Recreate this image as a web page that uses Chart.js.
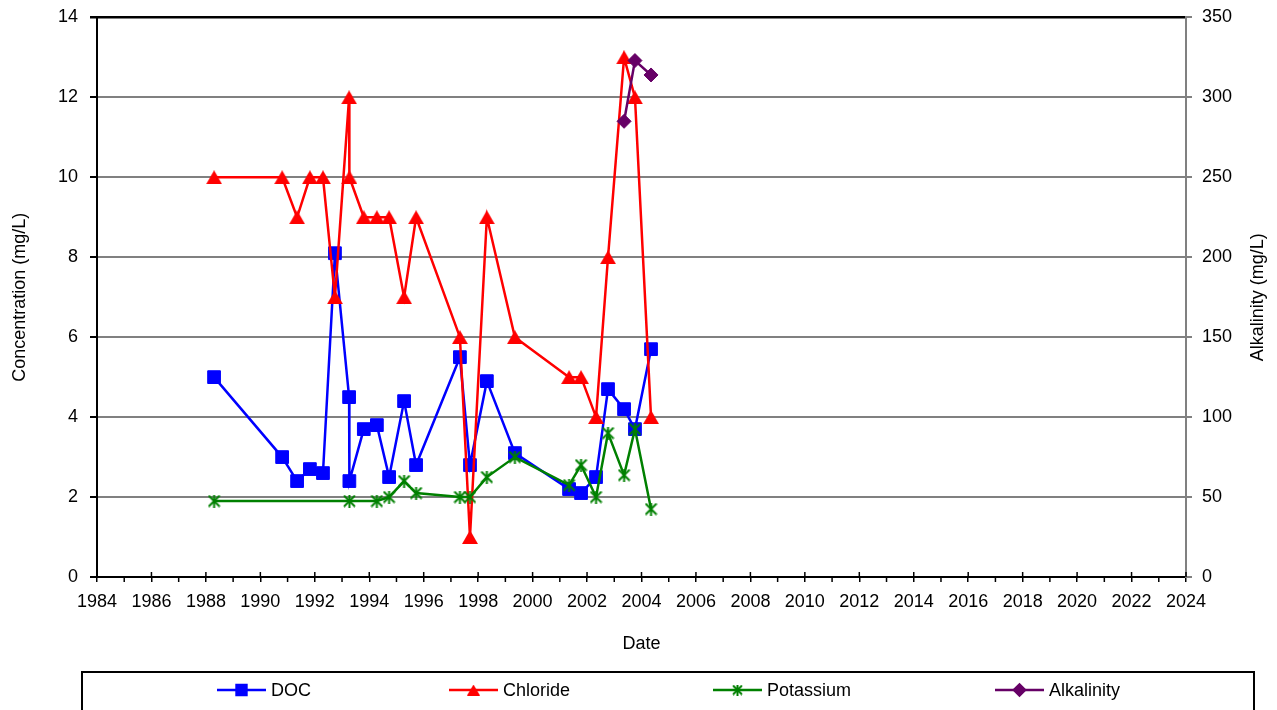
<!DOCTYPE html>
<html>
<head>
<meta charset="utf-8">
<script src="https://cdn.jsdelivr.net/npm/chart.js@4.4.0/dist/chart.umd.min.js"></script>
<style>
  html, body { margin: 0; padding: 0; background: #fff; }
</style>
</head>
<body>
<canvas id="myChart" width="1277" height="710"></canvas>
<script>
// sample dates as decimal years
const docDates = [1988.30, 1990.80, 1991.35, 1991.82, 1992.30, 1992.74, 1993.26, 1993.27, 1993.80, 1994.28, 1994.73, 1995.28,
                  1995.72, 1997.33, 1997.70, 1998.32, 1999.35, 2001.34, 2001.78, 2002.33, 2002.77, 2003.36, 2003.76, 2004.35]
const docValues = [5.0, 3.0, 2.4, 2.7, 2.6, 8.1, 4.5, 2.4, 3.7, 3.8, 2.5, 4.4, 2.8, 5.5, 2.8, 4.9, 3.1, 2.2, 2.1, 2.5, 4.7, 4.2, 3.7, 5.7]
const chlorideValues = [10, 10, 9, 10, 10, 7, 12, 10, 9, 9, 9, 7, 9, 6, 1, 9, 6, 5, 5, 4, 8, 13, 12, 4]

const potassiumDates = [1988.30, 1993.27, 1994.28, 1994.73, 1995.28, 1995.72, 1997.33, 1997.70, 1998.32, 1999.35,
                        2001.34, 2001.78, 2002.33, 2002.77, 2003.36, 2003.76, 2004.35]
const potassiumValues = [1.9, 1.9, 1.9, 2.0, 2.4, 2.1, 2.0, 2.0, 2.5, 3.0, 2.3, 2.8, 2.0, 3.6, 2.55, 3.7, 1.7]

const alkalinityDates = [2003.36, 2003.76, 2004.35]
const alkalinityValues = [285, 323, 314]

const seriesNames = ['DOC', 'Chloride', 'Potassium', 'Alkalinity']
const seriesColors = ['#0000FF', '#FF0000', '#008000', '#660066']

const FONT = '"Liberation Sans", Arial, sans-serif'

function points(dates, values) {
    return dates.map((d, i) => ({x: d, y: values[i]}))
}

// excel style markers drawn on small canvases
function triangleMarker(color, w, h) {
    const c = document.createElement('canvas')
    c.width = w
    c.height = h
    const g = c.getContext('2d')
    g.fillStyle = color
    g.beginPath()
    g.moveTo(w / 2, 0)
    g.lineTo(w, h)
    g.lineTo(0, h)
    g.closePath()
    g.fill()
    return c
}

function asteriskMarker(color, s) {
    const c = document.createElement('canvas')
    c.width = s
    c.height = s
    const g = c.getContext('2d')
    g.strokeStyle = color
    g.lineWidth = 2
    g.beginPath()
    g.moveTo(1, 1); g.lineTo(s - 1, s - 1)
    g.moveTo(s - 1, 1); g.lineTo(1, s - 1)
    g.moveTo(s / 2, 0); g.lineTo(s / 2, s)
    g.stroke()
    return c
}

Chart.defaults.color = '#000'
Chart.defaults.font.family = FONT
Chart.defaults.font.size = 18

const markerStyles = [
    {pointStyle: 'rect', radius: 9},
    {pointStyle: triangleMarker('#FF0000', 16, 14), radius: 8},
    {pointStyle: asteriskMarker('#008000', 13), radius: 7},
    {pointStyle: 'rectRot', radius: 7}
]
const legendMarkers = [
    {pointStyle: 'rect', radius: 7},
    {pointStyle: triangleMarker('#FF0000', 13, 11), radius: 6},
    {pointStyle: asteriskMarker('#008000', 11), radius: 6},
    {pointStyle: 'rectRot', radius: 5.5}
]

// minor x ticks, right axis title and the boxed legend
const extras = {
    id: 'extras',
    afterDraw(chart) {
        const ctx = chart.ctx
        const xs = chart.scales.x
        const area = chart.chartArea
        ctx.save()
        ctx.strokeStyle = '#000'
        ctx.lineWidth = 1.5
        for (let yr = 1984; yr <= 2024; yr++) {
            const px = xs.getPixelForValue(yr)
            ctx.beginPath()
            if (yr % 2 === 0) {
                ctx.moveTo(px, area.bottom - 5)
                ctx.lineTo(px, area.bottom)
            } else {
                ctx.moveTo(px, area.bottom)
                ctx.lineTo(px, area.bottom + 5)
            }
            ctx.stroke()
        }
        ctx.restore()

        ctx.save()
        ctx.translate(1258, (area.top + area.bottom) / 2)
        ctx.rotate(-Math.PI / 2)
        ctx.font = '18px ' + FONT
        ctx.fillStyle = '#000'
        ctx.textAlign = 'center'
        ctx.textBaseline = 'middle'
        ctx.fillText('Alkalinity (mg/L)', 0, 0)
        ctx.restore()

        // legend
        ctx.save()
        ctx.strokeStyle = '#000'
        ctx.lineWidth = 2
        ctx.strokeRect(82, 672, 1172, 60)
        const starts = [217, 449, 713, 995]
        const ly = 690
        ctx.font = '18px ' + FONT
        ctx.textBaseline = 'middle'
        ctx.textAlign = 'left'
        seriesNames.forEach((name, i) => {
            const lx = starts[i]
            ctx.strokeStyle = seriesColors[i]
            ctx.fillStyle = seriesColors[i]
            ctx.lineWidth = 2.5
            ctx.beginPath()
            ctx.moveTo(lx, ly)
            ctx.lineTo(lx + 49, ly)
            ctx.stroke()
            Chart.helpers.drawPoint(ctx, {
                pointStyle: legendMarkers[i].pointStyle,
                radius: legendMarkers[i].radius,
                rotation: 0,
                borderWidth: 1
            }, lx + 24.5, ly)
            ctx.fillStyle = '#000'
            ctx.fillText(name, lx + 54, ly + 1)
        })
        ctx.restore()
    }
}

const datasets = [
    {data: points(docDates, docValues), yAxisID: 'y', order: 4},
    {data: points(docDates, chlorideValues), yAxisID: 'y', order: 3},
    {data: points(potassiumDates, potassiumValues), yAxisID: 'y', order: 2},
    {data: points(alkalinityDates, alkalinityValues), yAxisID: 'y1', order: 1}
].map((ds, i) => Object.assign(ds, {
    label: seriesNames[i],
    borderColor: seriesColors[i],
    backgroundColor: seriesColors[i],
    pointBorderColor: seriesColors[i],
    pointBackgroundColor: seriesColors[i],
    borderWidth: 2.5,
    pointBorderWidth: 1,
    pointStyle: markerStyles[i].pointStyle,
    pointRadius: markerStyles[i].radius,
    tension: 0,
    fill: false
}))

new Chart(document.getElementById('myChart'), {
    type: 'line',
    data: {datasets: datasets},
    plugins: [extras],
    options: {
        responsive: false,
        animation: false,
        layout: {padding: {top: 17, bottom: 55, left: 0, right: 0}},
        plugins: {
            legend: {display: false},
            tooltip: {enabled: false}
        },
        scales: {
            x: {
                type: 'linear',
                min: 1984,
                max: 2024,
                afterFit: scale => { scale.height = 78 },
                ticks: {stepSize: 2, maxRotation: 0, autoSkip: false, padding: 9, callback: v => String(v)},
                grid: {drawOnChartArea: false, tickLength: 5, tickColor: '#000', lineWidth: 1.5},
                border: {color: '#000', width: 2},
                title: {display: true, text: 'Date', padding: {top: 0, bottom: 0}}
            },
            y: {
                position: 'left',
                min: 0,
                max: 14,
                afterFit: scale => { scale.width = 97 },
                ticks: {stepSize: 2, padding: 12, font: {lineHeight: 0.6}},
                grid: {
                    color: c => c.tick && c.tick.value === 14 ? '#000' : '#808080',
                    lineWidth: c => c.tick && c.tick.value === 14 ? 2.5 : 2,
                    tickColor: '#000',
                    tickLength: 7
                },
                border: {color: '#000', width: 2},
                title: {display: true, text: 'Concentration (mg/L)', padding: {top: 9, bottom: 0}}
            },
            y1: {
                position: 'right',
                min: 0,
                max: 350,
                afterFit: scale => { scale.width = 91 },
                ticks: {stepSize: 50, padding: 10, font: {lineHeight: 0.6}},
                grid: {drawOnChartArea: false, tickColor: '#808080', tickLength: 6, lineWidth: 2},
                border: {color: '#808080', width: 2}
            }
        }
    }
})
</script>
</body>
</html>
